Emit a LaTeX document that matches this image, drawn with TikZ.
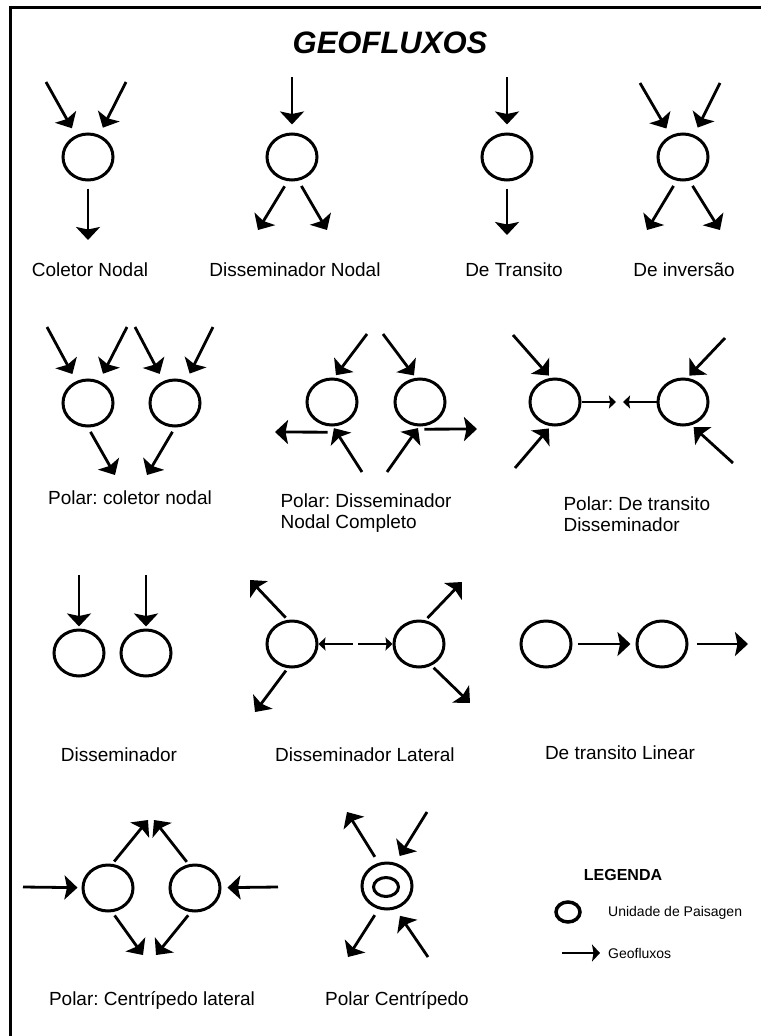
\documentclass[tikz,border=0pt]{standalone}
\usepackage{fontspec}
\setmainfont{Liberation Sans}
\usetikzlibrary{arrows.meta,shapes.geometric}
\frenchspacing

\begin{document}
\begin{tikzpicture}[x=1pt, y=-1pt,
    unidade/.style={ellipse, draw, line width=3pt, minimum width=50pt, minimum height=46pt, inner sep=0pt},
    fluxo/.style={line width=2.8pt, -{Stealth[length=13pt,width=24pt,inset=2.5pt]}},
    fluxofino/.style={line width=1.6pt, -{Stealth[length=7pt,width=13pt,inset=1pt]}},
    entra/.style={fluxo, shorten >=8pt},
    sai/.style={fluxo, shorten <=7pt},
    rotulo/.style={font=\fontsize{19}{21}\selectfont, align=left}]
            \useasboundingbox (0,0) rectangle (761,1036);

            % Cornice e titolo
            \draw[line width=3pt] (10,1036) -- (10,7) -- (761,7);
            \node (titolo) at (390,43) [font=\fontsize{31}{35}\selectfont\bfseries\itshape] {GEOFLUXOS};

            % Prima riga
            \node (cn) at (88,157) [unidade] {};
            \node (dn) at (292,157) [unidade] {};
            \node (dt) at (507,157) [unidade] {};
            \node (di) at (683,157) [unidade] {};

            \coordinate (cnA) at (46,82);
            \coordinate (cnB) at (126,82);
            \coordinate (cnC) at (88,240);
            \coordinate (dnA) at (292,77);
            \coordinate (dnB) at (258,230);
            \coordinate (dnC) at (327,230);
            \coordinate (dtA) at (507,77);
            \coordinate (dtB) at (507,235);
            \coordinate (diA) at (640,83);
            \coordinate (diB) at (720,83);
            \coordinate (diC) at (647,230);
            \coordinate (diD) at (720,230);

            \draw[entra] (cnA) -- (cn);
            \draw[entra] (cnB) -- (cn);
            \draw[sai] (cn) -- (cnC);
            \draw[entra] (dnA) -- (dn);
            \draw[sai, shorten <=6pt] (dn.-100) -- (dnB);
            \draw[sai, shorten <=6pt] (dn.-75) -- (dnC);
            \draw[entra] (dtA) -- (dt);
            \draw[sai] (dt) -- (dtB);
            \draw[entra] (diA) -- (di);
            \draw[entra] (diB) -- (di);
            \draw[sai, shorten <=6pt] (di.-105) -- (diC);
            \draw[sai, shorten <=6pt] (di.-75) -- (diD);

            \node (lcn) at (90,270) [rotulo] {Coletor Nodal};
            \node (ldn) at (295,270) [rotulo] {Disseminador Nodal};
            \node (ldt) at (514,270) [rotulo] {De Transito};
            \node (ldi) at (684,270) [rotulo] {De inversão};

            % Seconda riga
            \node (pc1) at (88,403) [unidade] {};
            \node (pc2) at (175,403) [unidade] {};
            \node (pd1) at (332,402) [unidade] {};
            \node (pd2) at (420,402) [unidade] {};
            \node (pt1) at (555,402) [unidade] {};
            \node (pt2) at (683,402) [unidade] {};

            \coordinate (pc1A) at (47,327);
            \coordinate (pc1B) at (127,327);
            \coordinate (pc2A) at (135,327);
            \coordinate (pc2B) at (213,327);
            \coordinate (pc1C) at (115,475);
            \coordinate (pc2C) at (147,475);
            \coordinate (pd1A) at (367,334);
            \coordinate (pd1B) at (362,472);
            \coordinate (pd1C) at (275,432);
            \coordinate (pd2A) at (383,334);
            \coordinate (pd2B) at (387,472);
            \coordinate (pd2C) at (477,429);
            \coordinate (pt1A) at (513,335);
            \coordinate (pt1B) at (515,468);
            \coordinate (pt2A) at (725,338);
            \coordinate (pt2B) at (733,463);
            \coordinate (ptm1) at (616,402);
            \coordinate (ptm2) at (623,402);

            \draw[entra] (pc1A) -- (pc1);
            \draw[entra] (pc1B) -- (pc1);
            \draw[entra] (pc2A) -- (pc2);
            \draw[entra] (pc2B) -- (pc2);
            \draw[sai, shorten <=5pt] (pc1.-90) -- (pc1C);
            \draw[sai, shorten <=5pt] (pc2.-90) -- (pc2C);

            \draw[entra, shorten >=3pt] (pd1A) -- (pd1.85);
            \draw[entra, shorten >=2pt] (pd1B) -- (pd1.-88);
            \draw[fluxo] ([yshift=-6pt]pd1.-100) -- (pd1C);
            \draw[entra, shorten >=3pt] (pd2A) -- (pd2.100);
            \draw[entra, shorten >=2pt] (pd2B) -- (pd2.-92);
            \draw[fluxo] ([yshift=-3pt]pd2.-80) -- (pd2C);

            \draw[entra, shorten >=3pt] (pt1A) -- (pt1.100);
            \draw[entra, shorten >=3pt] (pt1B) -- (pt1.-100);
            \draw[entra, shorten >=3pt] (pt2A) -- (pt2.80);
            \draw[entra, shorten >=3pt] (pt2B) -- (pt2.-70);
            \draw[fluxofino] (pt1) -- (ptm1);
            \draw[fluxofino] (pt2) -- (ptm2);

            \node (lpc) at (130,498) [rotulo] {Polar: coletor nodal};
            \node (lpd) at (277,513) [rotulo, anchor=west] {Polar: Disseminador\\Nodal Completo};
            \node (lpt) at (560,514) [rotulo, anchor=west] {Polar: De transito\\Disseminador};

            % Terza riga
            \node (ds1) at (79,653) [unidade] {};
            \node (ds2) at (146,653) [unidade] {};
            \node (dl1) at (292,644) [unidade] {};
            \node (dl2) at (419,644) [unidade] {};
            \node (tl1) at (546,644) [unidade] {};
            \node (tl2) at (662,644) [unidade] {};

            \coordinate (ds1A) at (79,575);
            \coordinate (ds2A) at (146,575);
            \coordinate (dl1A) at (250,580);
            \coordinate (dl1B) at (255,712);
            \coordinate (dl2A) at (462,582);
            \coordinate (dl2B) at (470,703);
            \coordinate (dlm1) at (353,644);
            \coordinate (dlm2) at (358,644);
            \coordinate (tlC) at (748,644);

            \draw[entra, shorten >=2pt] (ds1A) -- (ds1);
            \draw[entra, shorten >=2pt] (ds2A) -- (ds2);
            \draw[sai, shorten <=3pt] (dl1.100) -- (dl1A);
            \draw[sai, shorten <=3pt] (dl1.-100) -- (dl1B);
            \draw[sai, shorten <=3pt] (dl2.75) -- (dl2A);
            \draw[sai, shorten <=3pt] (dl2.-60) -- (dl2B);
            \draw[fluxofino] (dlm1) -- (dl1);
            \draw[fluxofino] (dlm2) -- (dl2);
            \draw[fluxo, shorten <=5pt, shorten >=5pt] (tl1) -- (tl2);
            \draw[sai, shorten <=8pt] (tl2) -- (tlC);

            \node (lds) at (119,755) [rotulo] {Disseminador};
            \node (ldl) at (365,755) [rotulo] {Disseminador Lateral};
            \node (ltl) at (620,753) [rotulo] {De transito Linear};

            % Quarta riga
            \node (cl1) at (108,888) [unidade] {};
            \node (cl2) at (195,888) [unidade] {};
            \node (pce) at (387,886) [unidade] {};
            \node (pcei) at (386,887) [unidade, minimum width=25pt, minimum height=19pt] {};

            \coordinate (clA) at (23,887);
            \coordinate (clB) at (278,887);
            \coordinate (cl1A) at (148,820);
            \coordinate (cl2A) at (154,820);
            \coordinate (cl1B) at (143,955);
            \coordinate (cl2B) at (156,955);
            \coordinate (pceA) at (347,812);
            \coordinate (pceB) at (427,812);
            \coordinate (pceC) at (348,957);
            \coordinate (pceD) at (428,957);

            \draw[entra, shorten >=4pt] (clA) -- (cl1);
            \draw[entra, shorten >=6pt] (clB) -- (cl2);
            \draw[sai, shorten <=3pt] (cl1.80) -- (cl1A);
            \draw[sai, shorten <=3pt] (cl2.105) -- (cl2A);
            \draw[sai, shorten <=4pt] (cl1.-80) -- (cl1B);
            \draw[sai, shorten <=4pt] (cl2.-100) -- (cl2B);
            \draw[sai] (pce.110) -- (pceA);
            \draw[entra] (pceB) -- (pce.70);
            \draw[sai] (pce.-110) -- (pceC);
            \draw[entra] (pceD) -- (pce.-70);

            \node (lcl) at (152,1000) [rotulo] {Polar: Centrípedo lateral};
            \node (lpce) at (397,1000) [rotulo] {Polar Centrípedo};

            % Legenda
            \node (leg) at (623,875) [font=\fontsize{16}{18}\selectfont\bfseries] {LEGENDA};
            \node (lu) at (568,912) [unidade, line width=3.5pt, minimum width=24pt, minimum height=20pt] {};
            \node (lut) at (608,913) [anchor=west, inner sep=0pt, font=\fontsize{14}{16}\selectfont] {Unidade de Paisagen};
            \coordinate (lgA) at (562,953);
            \node (lgt) at (608,953) [anchor=west, inner sep=0pt, font=\fontsize{14}{16}\selectfont] {Geofluxos};
            \draw[line width=2pt, -{Stealth[length=8pt,width=17pt,inset=1.5pt]}, shorten >=8pt] (lgA) -- (lgt.west);
        \end{tikzpicture}
\end{document}
